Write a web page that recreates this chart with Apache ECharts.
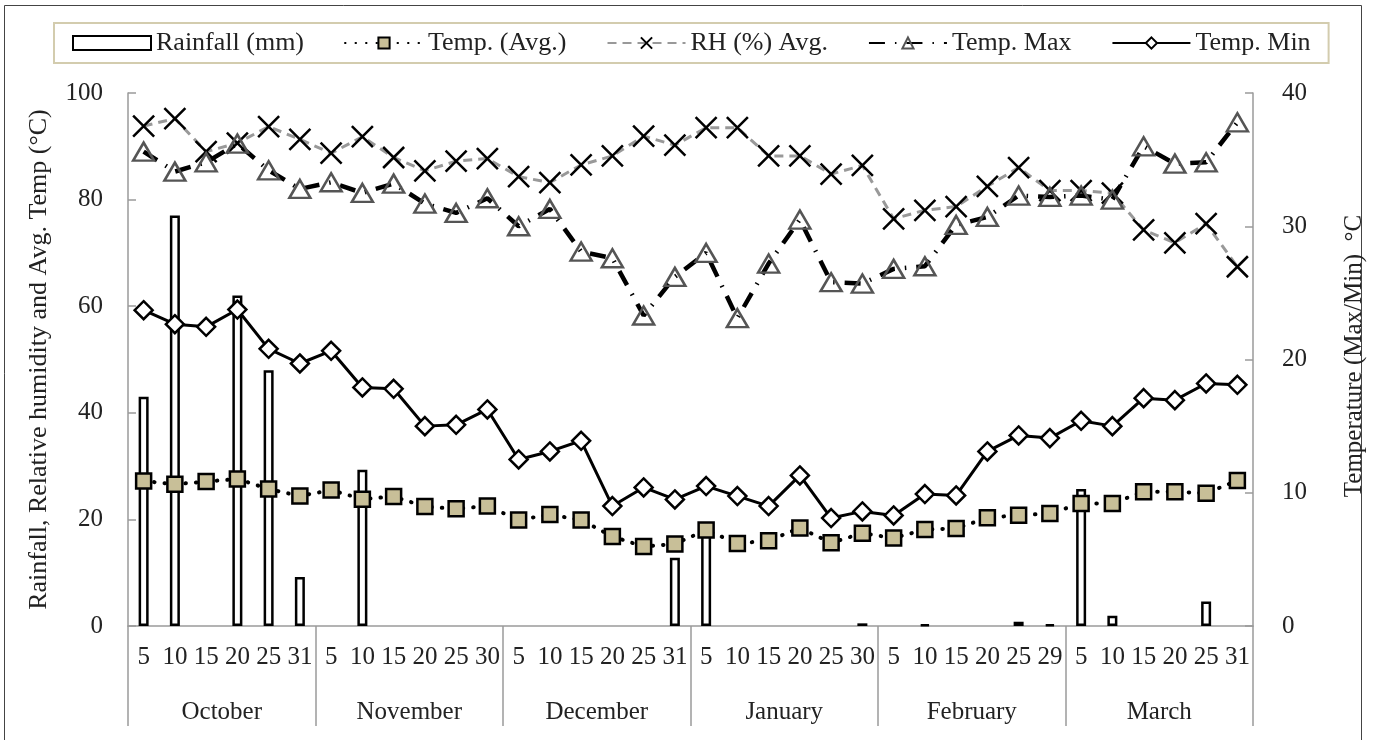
<!DOCTYPE html>
<html>
<head>
<meta charset="utf-8">
<script src="https://cdn.jsdelivr.net/npm/echarts@6/dist/echarts.min.js"></script>
<style>
  html, body { margin: 0; padding: 0; background: #fff; }
  #chart { width: 1373px; height: 740px; }
</style>
</head>
<body>
<div id="chart"></div>
<script>
const days = [
  "5", "10", "15", "20", "25", "31",
  "5", "10", "15", "20", "25", "30",
  "5", "10", "15", "20", "25", "31",
  "5", "10", "15", "20", "25", "30",
  "5", "10", "15", "20", "25", "29",
  "5", "10", "15", "20", "25", "31",
];
const months = ["October", "November", "December", "January", "February", "March"];

// null = no rain bar drawn for that period
const rainfall = [
  43, 77, null, 62, 48, 9.2,
  null, 29.3, null, null, null, null,
  null, null, null, null, null, 12.8,
  19, null, null, null, null, 0.5,
  null, 0.3, null, null, 0.8, 0.3,
  25.7, 1.9, null, null, 4.6, null,
];
const tempAvg = [
  27.2, 26.6, 27.1, 27.6, 25.7, 24.4,
  25.5, 23.8, 24.3, 22.4, 22.0, 22.5,
  19.9, 20.9, 19.9, 16.8, 14.9, 15.4,
  18.0, 15.5, 16.0, 18.4, 15.6, 17.4,
  16.5, 18.1, 18.3, 20.3, 20.8, 21.1,
  23.0, 23.0, 25.2, 25.2, 24.9, 27.3,
];
const rhAvg = [
  93.8, 95.2, 89.0, 90.6, 93.7, 91.3,
  88.7, 91.8, 87.9, 85.4, 87.2, 87.7,
  84.3, 83.2, 86.5, 88.2, 91.9, 90.2,
  93.5, 93.5, 88.2, 88.2, 84.8, 86.4,
  76.4, 78.0, 78.7, 82.5, 86.0, 81.7,
  81.7, 81.2, 74.3, 71.9, 75.5, 67.4,
];
const tempMax = [
  35.6, 34.1, 34.8, 36.2, 34.2, 32.8,
  33.3, 32.5, 33.2, 31.7, 31.0, 32.1,
  30.0, 31.3, 28.1, 27.6, 23.3, 26.2,
  28.0, 23.1, 27.2, 30.5, 25.8, 25.7,
  26.8, 27.0, 30.1, 30.7, 32.3, 32.2,
  32.3, 32.0, 36.0, 34.7, 34.8, 37.8,
];
const tempMin = [
  23.7, 22.65, 22.45, 23.75, 20.8, 19.7,
  20.65, 17.9, 17.8, 15.0, 15.1, 16.25,
  12.5, 13.1, 13.9, 9.0, 10.4, 9.5,
  10.5, 9.75, 9.0, 11.3, 8.1, 8.6,
  8.3, 9.9, 9.8, 13.1, 14.3, 14.1,
  15.4, 15.0, 17.1, 16.95, 18.2, 18.1,
];

const FONT = "Liberation Serif";
const AXIS_GREY = "#9a9a9a";
const chart = echarts.init(document.getElementById("chart"));

const option = {
  animation: false,
  backgroundColor: "#fff",
  textStyle: { fontFamily: FONT, color: "#222" },
  graphic: [
    {
      type: "rect",
      shape: { x: 4.5, y: 5.5, width: 1357, height: 800 },
      style: { fill: "none", stroke: "#444", lineWidth: 1 },
      silent: true,
    },
    {
      type: "text",
      x: 1354,
      y: 356,
      rotation: Math.PI / 2,
      style: {
        text: "Temperature (Max/Min)  °C",
        font: `25px "${FONT}"`,
        fill: "#222",
        align: "center",
        verticalAlign: "middle",
      },
    },
  ],
  legend: {
    left: 54,
    top: 23,
    padding: [7, 18],
    itemWidth: 78,
    itemHeight: 14,
    itemGap: 40,
    borderColor: "#d3ccae",
    borderWidth: 2,
    textStyle: { fontFamily: FONT, fontSize: 26, color: "#222" },
    data: [
      { name: "Rainfall (mm)", icon: "rect" },
      "Temp. (Avg.)",
      "RH (%) Avg.",
      "Temp. Max",
      "Temp. Min",
    ],
  },
  grid: { left: 128, right: 120, top: 93, bottom: 114 },
  xAxis: [
    {
      type: "category",
      data: days,
      position: "bottom",
      axisLine: { lineStyle: { color: AXIS_GREY, width: 1.5 } },
      axisTick: { show: false },
      axisLabel: { interval: 0, margin: 19, fontSize: 25, color: "#222", fontFamily: FONT },
    },
    {
      type: "category",
      data: months,
      position: "bottom",
      axisLine: { show: false },
      axisTick: { show: true, length: 100, lineStyle: { color: AXIS_GREY, width: 1.5 } },
      axisLabel: { interval: 0, margin: 74, fontSize: 25, color: "#222", fontFamily: FONT },
    },
  ],
  yAxis: [
    {
      type: "value",
      min: 0,
      max: 100,
      interval: 20,
      name: "Rainfall, Relative humidity and Avg. Temp (°C)",
      nameLocation: "middle",
      nameRotate: 90,
      nameGap: 76,
      nameTextStyle: { fontFamily: FONT, fontSize: 26, color: "#222" },
      axisLine: { show: true, lineStyle: { color: AXIS_GREY, width: 1.5 } },
      axisTick: { show: true, inside: true, length: 8, lineStyle: { color: AXIS_GREY, width: 1.5 } },
      axisLabel: { margin: 25, fontSize: 25, color: "#222", fontFamily: FONT },
      splitLine: { show: false },
    },
    {
      type: "value",
      min: 0,
      max: 40,
      interval: 10,
      position: "right",
      axisLine: { show: true, lineStyle: { color: AXIS_GREY, width: 1.5 } },
      axisTick: { show: true, inside: true, length: 8, lineStyle: { color: AXIS_GREY, width: 1.5 } },
      axisLabel: { margin: 29, fontSize: 25, color: "#222", fontFamily: FONT },
      splitLine: { show: false },
    },
  ],
  series: [
    {
      name: "Rainfall (mm)",
      type: "bar",
      yAxisIndex: 0,
      barWidth: 10,
      data: rainfall,
      itemStyle: { color: "#fff", borderColor: "#000", borderWidth: 2.5 },
    },
    {
      name: "Temp. (Avg.)",
      type: "line",
      yAxisIndex: 0,
      data: tempAvg,
      symbol: "rect",
      symbolSize: 15,
      itemStyle: { color: "#c8bf98", borderColor: "#000", borderWidth: 2.5 },
      lineStyle: { color: "#000", width: 4, type: [0.5, 10], cap: "round" },
      z: 4,
    },
    {
      name: "RH (%) Avg.",
      type: "line",
      yAxisIndex: 0,
      data: rhAvg,
      symbol: "path://M0 0L20 20M20 0L0 20",
      symbolSize: 21,
      itemStyle: { color: "rgba(0,0,0,0)", borderColor: "#000", borderWidth: 2.5 },
      lineStyle: { color: "#999", width: 3, type: [9, 6] },
      z: 3,
    },
    {
      name: "Temp. Max",
      type: "line",
      yAxisIndex: 1,
      data: tempMax,
      symbol: "triangle",
      symbolSize: [21, 18],
      itemStyle: { color: "rgba(0,0,0,0)", borderColor: "#555", borderWidth: 2.5 },
      lineStyle: { color: "#000", width: 4.5, type: [16, 10, 1.5, 10] },
      z: 3,
    },
    {
      name: "Temp. Min",
      type: "line",
      yAxisIndex: 1,
      data: tempMin,
      symbol: "diamond",
      symbolSize: 18,
      itemStyle: { color: "#fff", borderColor: "#000", borderWidth: 2.5 },
      lineStyle: { color: "#000", width: 3 },
      z: 4,
    },
  ],
};

chart.setOption(option);
</script>
</body>
</html>
